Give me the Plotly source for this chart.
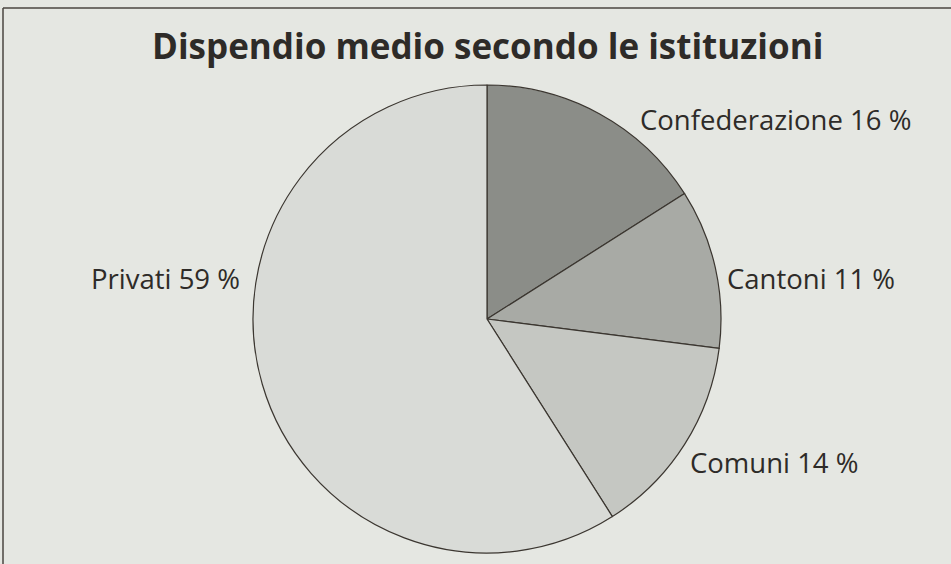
import plotly.graph_objects as go

categories = ["Confederazione", "Cantoni", "Comuni", "Privati"]
values = [16, 11, 14, 59]
slice_colors = ["#8b8d88", "#a8aaa5", "#c5c7c2", "#d9dbd7"]
label_texts = ["Confederazione 16 %", "Cantoni 11 %", "Comuni 14 %", "Privati 59 %"]
label_pos = [(775, 120), (811, 278), (774, 462), (165, 278)]

W, H = 951, 564
bg = "#e5e7e2"

fig = go.Figure(go.Pie(
    labels=categories,
    values=values,
    sort=False,
    direction="clockwise",
    rotation=0,
    marker=dict(colors=slice_colors, line=dict(color="#3b3630", width=1.2)),
    textinfo="none",
    hoverinfo="label+percent",
    showlegend=False,
    domain=dict(x=[253 / W, 721 / W], y=[11 / H, 479 / H]),
))

annotations = [dict(
    text="<b>Dispendio medio secondo le istituzioni</b>",
    x=487 / W, y=1 - 46 / H, xref="paper", yref="paper",
    xanchor="center", yanchor="middle", showarrow=False,
    font=dict(family="Open Sans", size=35, color="#2e2b28"),
)]
for t, (px, py) in zip(label_texts, label_pos):
    annotations.append(dict(
        text=t, x=px / W, y=1 - py / H, xref="paper", yref="paper",
        xanchor="center", yanchor="middle", showarrow=False,
        font=dict(family="Open Sans", size=27.5, color="#2e2b28"),
    ))

fig.update_layout(
    width=W, height=H,
    margin=dict(l=0, r=0, t=0, b=0),
    paper_bgcolor=bg, plot_bgcolor=bg,
    annotations=annotations,
    shapes=[
        dict(type="line", xref="paper", yref="paper", x0=3 / W, x1=1, y0=1 - 8 / H, y1=1 - 8 / H,
             line=dict(color="#4a4640", width=1.5)),
        dict(type="line", xref="paper", yref="paper", x0=3 / W, x1=3 / W, y0=0, y1=1 - 8 / H,
             line=dict(color="#4a4640", width=1.5)),
    ],
)

fig.write_html(
    "out.html",
    config={"displayModeBar": False},
    post_script="document.body.style.margin='0';document.body.style.overflow='hidden';",
)
